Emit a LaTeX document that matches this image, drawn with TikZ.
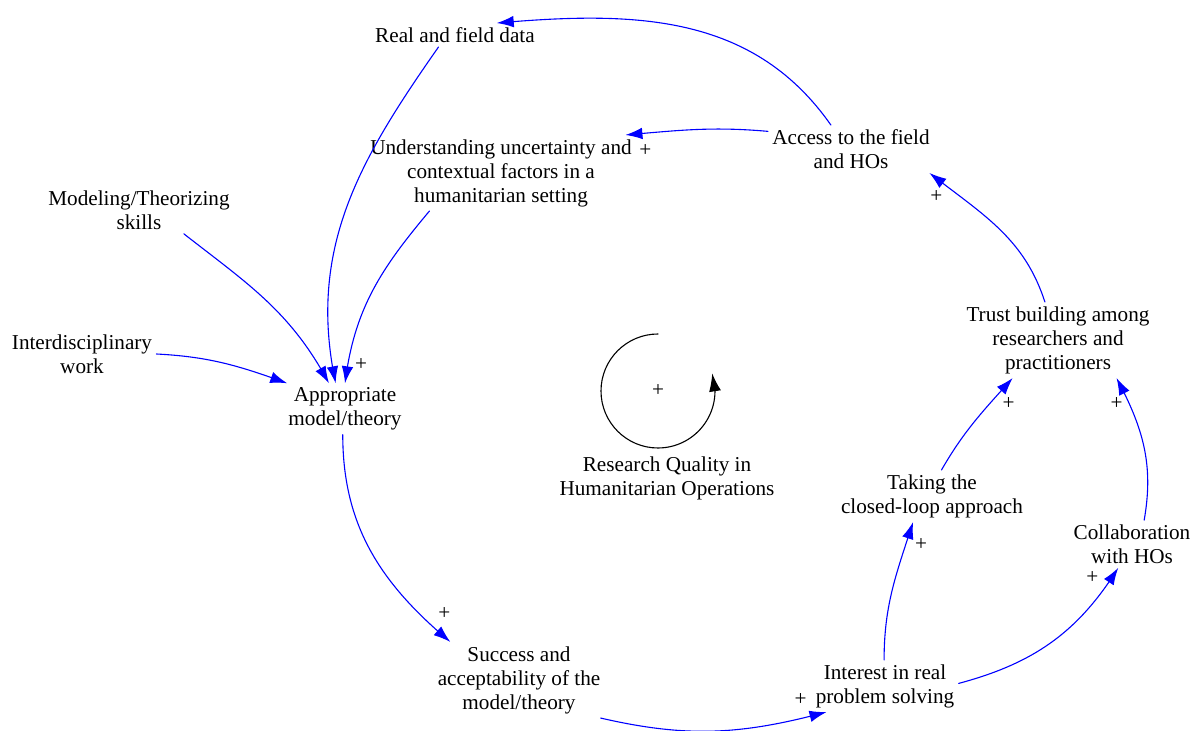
\documentclass[tikz,border=0pt]{standalone}
\usepackage{fontspec}
\setmainfont{Liberation Serif}
\usetikzlibrary{arrows.meta,bending,positioning}

\begin{document}
\begin{tikzpicture}[x=0.5pt,y=0.5pt,font=\fontsize{10.6}{12}\selectfont,line join=round,line cap=round,
  var/.style={align=center,inner sep=2pt},
  link/.style={blue,line width=0.55pt,-{Latex[length=8.5pt,width=5.8pt]}},
  plus/.style={inner sep=0pt,text=black}]
\useasboundingbox (0,0) rectangle (1199,-731);
% variables
\node[var] (real) at (455,-35) {Real and field data};
\node[var] (und) at (501,-173) {Understanding uncertainty and\\contextual factors in a\\humanitarian setting};
\node[var] (acc) at (851,-149) {Access to the field\\and HOs};
\node[var] (mod) at (139,-210) {Modeling/Theorizing\\skills};
\node[var] (inter) at (82,-354) {Interdisciplinary\\work};
\node[var] (app) at (345,-409) {Appropriate\\model/theory};
\node[var] (trust) at (1058,-340) {Trust building among\\researchers and\\practitioners};
\node[var] (take) at (932,-496) {Taking the\\closed-loop approach};
\node[var] (collab) at (1132,-544) {Collaboration\\with HOs};
\node[var] (interest) at (885,-686) {Interest in real\\problem solving};
\node[var] (succ) at (519,-680) {Success and\\acceptability of the\\model/theory};
\node[var] (rqlabel) at (667,-478) {Research Quality in\\Humanitarian Operations};
% loop sign
\node (loopplus) at (658,-391) {+};
\draw[line width=0.55pt,-{Latex[length=9pt,width=6pt]}] (loopplus.center) ++(90:28.5pt) arc[start angle=90,end angle=378,radius=28.5pt];
% links
\draw[link] (acc.130) to[out=125,in=5] (real.16);
\draw[link] (acc.168) to[out=175,in=5] node[plus,pos=1,shift={(10pt,-8pt)}] (p1) {+} (und.17);
\draw[link] (real.216) to[out=235,in=102] (app.110);
\draw[link] (und.208) to[out=230,in=83] node[plus,pos=1,shift={(8pt,9.5pt)}] (p2) {+} (app.north);
\draw[link] (mod.332) to[out=-38,in=118] (app.122);
\draw[link] (inter.east) to[out=-3,in=160] (app.156);
\draw[link] (app.265) to[out=270,in=140] node[plus,pos=1,shift={(-3pt,14pt)}] (p3) {+} (succ.151);
\draw[link] (succ.335) to[out=-13,in=195] node[plus,pos=1,shift={(-13pt,6.5pt)}] (p4) {+} (interest.204);
\draw[link] (interest.92) to[out=90,in=252] node[plus,pos=1,shift={(4pt,-11.5pt)}] (p5) {+} (take.234);
\draw[link] (interest.2) to[out=15,in=238] node[plus,pos=1,shift={(-13pt,-5pt)}] (p6) {+} (collab.240);
\draw[link] (take.70) to[out=60,in=228] node[plus,pos=1,shift={(-2pt,-13pt)}] (p7) {+} (trust.220);
\draw[link] (collab.63) to[out=80,in=298] node[plus,pos=1,shift={(0pt,-13pt)}] (p8) {+} (trust.327);
\draw[link] (trust.109) to[out=108,in=322] node[plus,pos=1,shift={(3.5pt,-12pt)}] (p9) {+} (acc.343);
\end{tikzpicture}
\end{document}
